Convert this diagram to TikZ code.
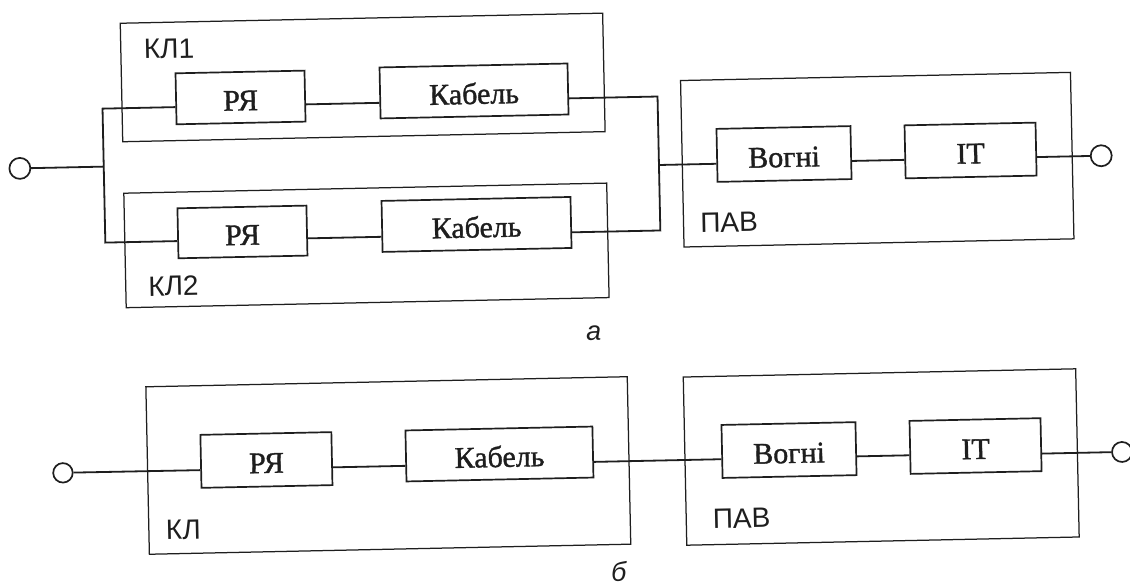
\documentclass[tikz,border=0pt]{standalone}
\usepackage{fontspec}
\setmainfont{Liberation Serif}
\newfontfamily\boxfont{Liberation Serif}[FakeBold=1.2]
\newfontfamily\lsans{Liberation Sans}
\usetikzlibrary{calc}
\definecolor{ink}{HTML}{1E1E1E}
\begin{document}
\begin{tikzpicture}[x=1pt,y=-1pt,
  box/.style={draw=ink,line width=1.7pt,inner sep=0pt,text height=26pt,text depth=0pt,
              font=\boxfont\fontsize{30}{30}\selectfont,text=ink},
  group/.style={draw=ink,line width=1.25pt},
  wire/.style={draw=ink,line width=1.8pt},
  port/.style={circle,draw=ink,line width=1.7pt,fill=white,inner sep=0pt},
  lab/.style={font=\lsans\fontsize{28}{28}\selectfont,text=ink,inner sep=0pt},
  capt/.style={font=\lsans\itshape\fontsize{27}{27}\selectfont,text=ink,inner sep=0pt}]
\fill[white] (0,0) rectangle (1130,588);
\useasboundingbox (0,0) rectangle (1130,588);
\begin{scope}[rotate around={1.2:(565,294)}, transform shape]
  % group frames
  \draw[group] (126,14) rectangle (608.5,132.5);
  \draw[group] (126,184) rectangle (609,298.5);
  \draw[group] (685,83) rectangle (1075,249.5);
  \draw[group] (144,378) rectangle (625.5,545.5);
  \draw[group] (681.5,379.5) rectangle (1074,547.7);
  % labels
  \node[lab] (kl1) at (174.2,40.7) {КЛ1};
  \node[lab] (kl2) at (173.7,277.8) {КЛ2};
  \node[lab] (pav1) at (730.5,226) {ПАВ};
  \node[capt] (capa) at (592.8,333.6) {а};
  \node[lab] (kl) at (178.5,521.5) {КЛ};
  \node[lab] (pav2) at (736.8,522.2) {ПАВ};
  \node[capt] (capb) at (613,572.5) {б};
  % diagram a
  \node[port,minimum size=21pt] (in1) at (22.6,157) {};
  \node[box,minimum width=129pt,minimum height=51pt] (R1) at (244.7,90.7) {РЯ};
  \node[box,minimum width=188pt,minimum height=51pt] (K1) at (478.3,89.1) {Кабель};
  \node[box,minimum width=129pt,minimum height=50pt] (R2) at (243.8,225.2) {РЯ};
  \node[box,minimum width=189pt,minimum height=51pt] (K2) at (478,222.6) {Кабель};
  \node[box,minimum width=134pt,minimum height=53pt] (V1) at (786.9,158.6) {Вогні};
  \node[box,minimum width=131pt,minimum height=53pt] (I1) at (973.5,159) {ІТ};
  \node[port,minimum size=21pt] (out1) at (1104,167) {};
  \coordinate (j1) at (106.5,157);
  \coordinate (b1t) at (106.5,99);
  \coordinate (b1b) at (106.5,233);
  \coordinate (b2t) at (661.7,98.5);
  \coordinate (b2b) at (661.7,232.5);
  \coordinate (j2) at (661.7,167);
  \draw[wire] (in1.east) -- (j1);
  \draw[wire] ($(R1.west)!8.3pt!-90:(R1.east)$) -- (b1t) -- (b1b) -- ($(R2.west)!7.8pt!-90:(R2.east)$);
  \draw[wire] ($(R1.east)!8.3pt!90:(R1.west)$) -- ($(K1.west)!9.9pt!-90:(K1.east)$);
  \draw[wire] ($(R2.east)!7.8pt!90:(R2.west)$) -- ($(K2.west)!10.4pt!-90:(K2.east)$);
  \draw[wire] ($(K1.east)!9.4pt!90:(K1.west)$) -- (b2t) -- (b2b) -- ($(K2.east)!9.9pt!90:(K2.west)$);
  \draw[wire] (j2) -- ($(V1.west)!8.4pt!-90:(V1.east)$);
  \draw[wire] ($(V1.east)!8.4pt!90:(V1.west)$) -- ($(I1.west)!8pt!-90:(I1.east)$);
  \draw[wire] ($(I1.east)!8pt!90:(I1.west)$) -- (out1.west);
  % diagram b
  \node[port,minimum size=19.5pt] (in2) at (59.3,462.3) {};
  \node[box,minimum width=131pt,minimum height=53pt] (R3) at (263,453.7) {РЯ};
  \node[box,minimum width=187pt,minimum height=51pt] (K3) at (496.1,452.6) {Кабель};
  \node[box,minimum width=134pt,minimum height=53pt] (V2) at (785.7,454.7) {Вогні};
  \node[box,minimum width=131pt,minimum height=53pt] (I2) at (972.3,454.6) {ІТ};
  \node[port,minimum size=20pt] (out2) at (1118.6,463.6) {};
  \draw[wire] (in2.east) -- ($(R3.west)!8.8pt!-90:(R3.east)$);
  \draw[wire] ($(R3.east)!8.8pt!90:(R3.west)$) -- ($(K3.west)!9.9pt!-90:(K3.east)$);
  \draw[wire] ($(K3.east)!9.9pt!90:(K3.west)$) -- ($(V2.west)!7.8pt!-90:(V2.east)$);
  \draw[wire] ($(V2.east)!7.8pt!90:(V2.west)$) -- ($(I2.west)!7.9pt!-90:(I2.east)$);
  \draw[wire] ($(I2.east)!9pt!90:(I2.west)$) -- (out2.west);
\end{scope}
\end{tikzpicture}
\end{document}
